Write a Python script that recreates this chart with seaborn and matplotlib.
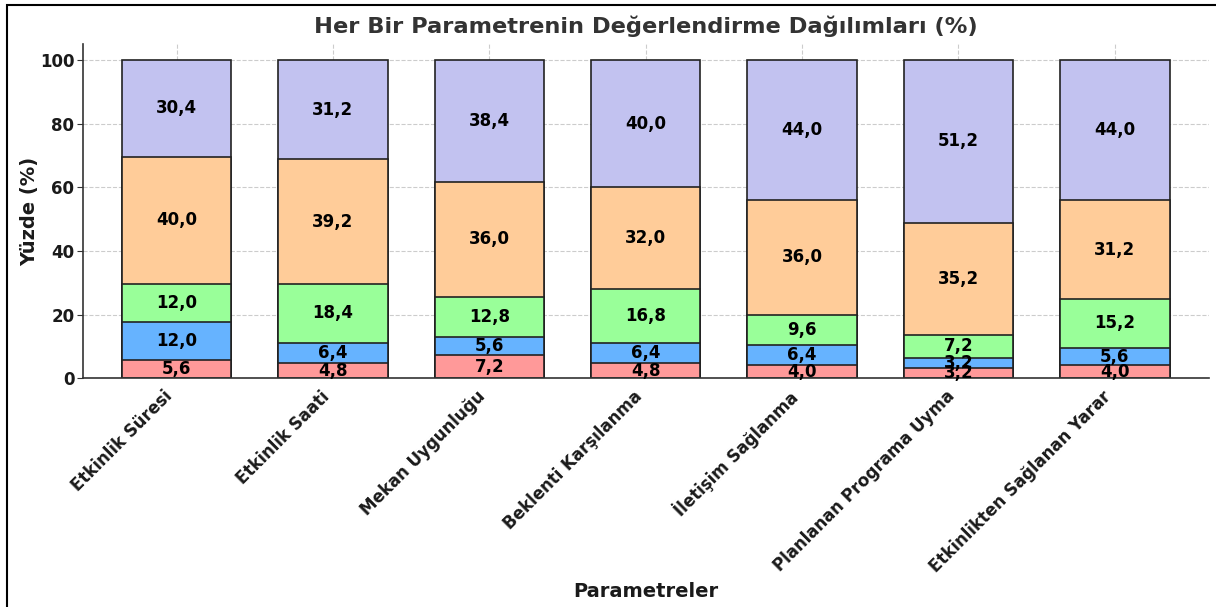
import numpy as np
import pandas as pd
import matplotlib
matplotlib.use("Agg")
import matplotlib.pyplot as plt
import seaborn as sns
from matplotlib.patches import Rectangle

categories = ["Etkinlik Süresi", "Etkinlik Saati", "Mekan Uygunluğu", "Beklenti Karşılanma",
              "İletişim Sağlanma", "Planlanan Programa Uyma", "Etkinlikten Sağlanan Yarar"]
s1 = [5.6, 4.8, 7.2, 4.8, 4.0, 3.2, 4.0]
s2 = [12.0, 6.4, 5.6, 6.4, 6.4, 3.2, 5.6]
s3 = [12.0, 18.4, 12.8, 16.8, 9.6, 7.2, 15.2]
s4 = [40.0, 39.2, 36.0, 32.0, 36.0, 35.2, 31.2]
s5 = [30.4, 31.2, 38.4, 40.0, 44.0, 51.2, 44.0]
series = [s1, s2, s3, s4, s5]
colors = ["#ff9999", "#66b3ff", "#99ff99", "#ffcc99", "#c2c2f0"]
yticks = [0, 20, 40, 60, 80, 100]

sns.set_style("whitegrid", {"grid.linestyle": "--", "grid.color": "#cccccc",
                            "axes.edgecolor": "#333333"})
plt.rcParams["font.family"] = ["DejaVu Sans"]

fig = plt.figure(figsize=(12.16, 6.07), dpi=100)
ax = fig.add_axes([0.068, 0.377, 0.926, 0.5505])

arr = np.array(series)
cum = np.cumsum(arr, axis=0)
# draw from top (largest cumulative) to bottom
for i in range(len(series) - 1, -1, -1):
    df = pd.DataFrame({"cat": categories, "val": cum[i]})
    sns.barplot(data=df, x="cat", y="val", color=colors[i], edgecolor="#222222",
                linewidth=1.2, width=0.7, saturation=1, ax=ax, zorder=2)

for i in range(len(series)):
    for j in range(len(categories)):
        bottom = cum[i][j] - arr[i][j]
        ax.text(j, bottom + arr[i][j] / 2, f"{arr[i][j]:.1f}".replace(".", ","),
                ha="center", va="center", fontsize=12, fontweight="bold",
                color="black", zorder=5)

ax.set_xlim(-0.6, 6.6)
ax.set_ylim(0, 105)
ax.set_yticks(yticks)
ax.set_yticklabels([str(v) for v in yticks], fontsize=12, fontweight="bold", color="#1a1a1a")
ax.set_xticks(range(len(categories)))
ax.set_xticklabels(categories, rotation=45, ha="right",
                   fontsize=12, fontweight="bold", color="#1a1a1a")
ax.tick_params(axis="y", left=True, length=4, color="#333333", pad=2)
ax.tick_params(axis="x", bottom=False, pad=3)
ax.set_axisbelow(True)
ax.grid(True, linestyle="--", color="#cccccc", linewidth=0.8)
for side in ["top", "right"]:
    ax.spines[side].set_visible(False)
for side in ["left", "bottom"]:
    ax.spines[side].set_color("#333333")
    ax.spines[side].set_linewidth(1.2)

ax.set_title("Her Bir Parametrenin Değerlendirme Dağılımları (%)", fontsize=16.2,
             fontweight="bold", color="#333333", pad=8)
ax.set_ylabel("Yüzde (%)", fontsize=14, fontweight="bold", color="#1a1a1a")
ax.yaxis.set_label_coords(-0.039, 0.5)
ax.set_xlabel("Parametreler", fontsize=14, fontweight="bold", color="#1a1a1a")
ax.xaxis.set_label_coords(0.5, -0.61)

fig.patches.append(Rectangle((7 / 1216, -0.1), 1.2, 1.1 - 5 / 607, transform=fig.transFigure,
                             fill=False, edgecolor="black", linewidth=1.5, zorder=10))

fig.savefig("out.png", dpi=100)
